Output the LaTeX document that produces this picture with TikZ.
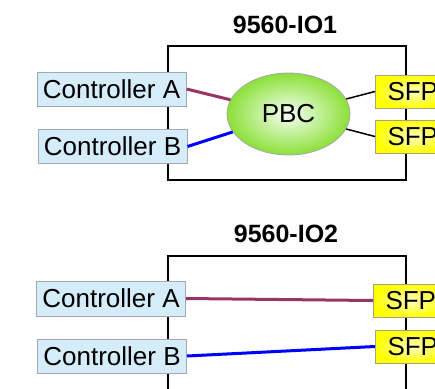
\documentclass[tikz,border=0pt]{standalone}
\usepackage{fontspec}
\setmainfont{Liberation Sans}
\usepackage{xcolor}
\usetikzlibrary{shapes.geometric, arrows.meta, positioning}

\definecolor{ctlblue}{RGB}{213,236,251}
\definecolor{ctlgray}{RGB}{160,170,178}
\definecolor{linkpurple}{RGB}{153,51,102}
\definecolor{pbcgreen}{RGB}{140,224,56}

\begin{document}
\begin{tikzpicture}[
    x=1pt, y=-1pt,
    ctl/.style={draw=ctlgray, fill=ctlblue, line width=1pt, minimum width=149pt, minimum height=34pt, inner sep=0pt, font=\fontsize{26}{28}\selectfont},
    sfp/.style={draw=gray!80!yellow, inner color=yellow!25!white, outer color=yellow, line width=1pt, anchor=west, minimum height=33pt, inner xsep=12pt, inner ysep=0pt, font=\fontsize{26}{28}\selectfont},
    pbc/.style={ellipse, draw=gray!70, inner color=green!4!white, outer color=pbcgreen, line width=0.8pt, minimum width=123pt, minimum height=82pt, inner sep=0pt, font=\fontsize{26}{28}\selectfont},
    title/.style={font=\fontsize{25}{28}\selectfont\bfseries},
    card/.style={draw=black, line width=1.6pt},
]
    \useasboundingbox (0,0) rectangle (435,388);
    \clip (0,0) rectangle (435,388);

    % IO1
    \node[title] (t1) at (285,25) {9560-IO1};
    \draw[card] (168,46) rectangle (406,180);
    \node[ctl] (ctlA1) at (111.5,89) {Controller A};
    \node[ctl] (ctlB1) at (112.5,146.5) {Controller B};
    \node[pbc] (pbc) at (288.5,114) {PBC};
    \node[sfp] (sfp1) at (375,91.5) {SFP};
    \node[sfp] (sfp2) at (375,136.5) {SFP};

    \draw[line width=3pt, linkpurple] (ctlA1.east) -- (pbc);
    \draw[line width=3pt, blue] (ctlB1.east) -- (pbc);
    \draw[line width=1.5pt] (pbc) -- (sfp1.west);
    \draw[line width=1.5pt] (pbc) -- (sfp2.west);

    % IO2
    \node[title] (t2) at (286,234) {9560-IO2};
    \draw[card] (168,256) rectangle (406,400);
    \node[ctl, minimum height=35pt] (ctlA2) at (111,298.5) {Controller A};
    \node[ctl] (ctlB2) at (112,356) {Controller B};
    \node[sfp] (sfp3) at (373,300.5) {SFP};
    \node[sfp] (sfp4) at (375,346.5) {SFP};

    \draw[line width=3pt, linkpurple] (ctlA2.east) -- (sfp3.west);
    \draw[line width=3pt, blue] (ctlB2.east) -- (sfp4.west);
\end{tikzpicture}
\end{document}
